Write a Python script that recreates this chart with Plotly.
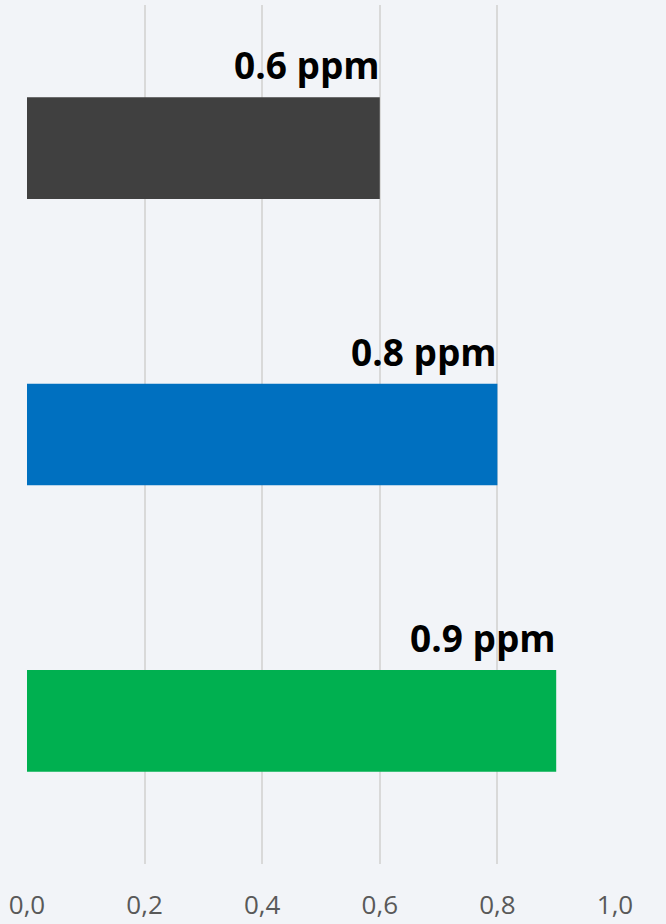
import plotly.graph_objects as go

categories = ["A", "B", "C"]
values = [0.6, 0.8, 0.9]
labels = ["0.6 ppm", "0.8 ppm", "0.9 ppm"]
colors = ["#404040", "#0070C0", "#00B050"]
tick_vals = [0, 0.2, 0.4, 0.6, 0.8, 1.0]
tick_text = ["0,0", "0,2", "0,4", "0,6", "0,8", "1,0"]

bg = "#F2F4F8"

fig = go.Figure()
fig.add_trace(go.Bar(
    x=values, y=categories,
    orientation="h",
    marker=dict(color=colors, line=dict(width=0)),
    width=0.355,
    hoverinfo="skip",
))

for cat, val, lab in zip(categories, values, labels):
    fig.add_annotation(
        x=val, y=cat, text=f"<b>{lab}</b>",
        xanchor="right", yanchor="bottom",
        yshift=56, xshift=2, showarrow=False,
        font=dict(family="Open Sans", size=37, color="#000000"),
    )

fig.update_layout(
    width=666, height=924,
    margin=dict(l=27, r=51, t=5, b=60),
    plot_bgcolor=bg,
    paper_bgcolor=bg,
    showlegend=False,
    xaxis=dict(
        range=[0, 1.0], tickvals=tick_vals, ticktext=tick_text,
        showgrid=True, gridcolor="#D9D9D9", gridwidth=2,
        zeroline=False, showline=False, automargin=False,
        ticklabelstandoff=23,
        tickfont=dict(family="Open Sans", size=26, color="#595959"),
    ),
    yaxis=dict(
        autorange="reversed", showticklabels=False, automargin=False,
        showgrid=False, zeroline=False, showline=False,
    ),
)

fig.write_html(
    "out.html",
    config=dict(displayModeBar=False),
    post_script="document.body.style.margin='0';document.body.style.background='%s';" % bg,
)
